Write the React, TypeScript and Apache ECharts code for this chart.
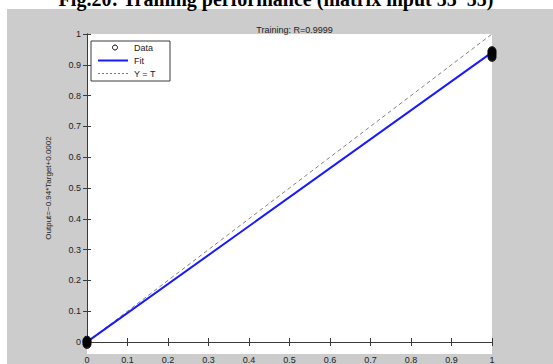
import React, { useEffect, useRef } from "react";
import * as echarts from "echarts";

// Regression of network output against target on the training set
const targets = [0, 0, 0, 0, 0, 1, 1, 1, 1, 1, 1];
const outputs = [0.006, 0.002, -0.003, -0.008, 0.0, 0.946, 0.942, 0.938, 0.934, 0.929, 0.924];

// Linear fit: Output = fitSlope * Target + fitIntercept
const fitSlope = 0.94;
const fitIntercept = 0.0002;
const fitX = [0, 1];

const identityX = [0, 1];

const chartTitle = "Training: R=0.9999";
const yName = "Output=~0.94*Target+0.0002";
const caption = "Fig.20: Training performance (matrix input 55*55)";
const legendNames = ["Data", "Fit", "Y = T"];

const W = 553;
const H = 364;
const FONT = "Liberation Sans, Arial, sans-serif";

export default function App() {
  const ref = useRef<HTMLDivElement>(null);

  useEffect(() => {
    if (!ref.current) return;
    const chart = echarts.init(ref.current, null, { renderer: "svg" });

    const fmt = (v: number) => String(+v.toFixed(1));
    const axisBase = {
      type: "value" as const,
      min: 0,
      max: 1,
      interval: 0.1,
      splitLine: { show: false },
      axisLine: { show: true, lineStyle: { color: "#3a3a3a", width: 1 } },
      axisTick: { show: true, inside: true, length: 4, lineStyle: { color: "#3a3a3a" } },
    };

    const legendX = 91;
    const legendY = 41;

    chart.setOption({
      animation: false,
      backgroundColor: "#ffffff",
      grid: { left: 87, top: 34, right: 61, bottom: 10, containLabel: false },
      xAxis: [
        {
          ...axisBase,
          position: "bottom",
          axisLabel: {
            show: true,
            fontSize: 9,
            color: "#222",
            fontFamily: FONT,
            margin: 13,
            formatter: fmt,
          },
        },
        { ...axisBase, position: "top", axisLabel: { show: false } },
      ],
      yAxis: [
        {
          ...axisBase,
          position: "left",
          name: yName,
          nameLocation: "middle",
          nameGap: 35,
          nameTextStyle: { fontSize: 8, color: "#222", fontFamily: FONT },
          axisLabel: {
            show: true,
            fontSize: 9,
            color: "#222",
            fontFamily: FONT,
            margin: 6,
            formatter: fmt,
          },
        },
        { ...axisBase, position: "right", axisLabel: { show: false } },
      ],
      title: {
        text: chartTitle,
        left: 289.5,
        top: 20,
        textAlign: "center",
        textStyle: { fontSize: 9, fontWeight: "normal", color: "#222", fontFamily: FONT },
      },
      graphic: [
        {
          type: "rect",
          z: -10,
          silent: true,
          shape: { x: 7, y: 9, width: W - 7, height: H - 9 },
          style: { fill: "#cccccc" },
        },
        {
          type: "rect",
          z: -9,
          silent: true,
          shape: { x: 87, y: 34, width: 405, height: 320 },
          style: { fill: "#ffffff" },
        },
        {
          type: "text",
          x: 276,
          y: 9,
          z: 5,
          style: {
            text: caption,
            fill: "#000",
            font: "bold 20px 'Liberation Serif', 'Times New Roman', serif",
            textAlign: "center",
            textVerticalAlign: "bottom",
          },
        },
        {
          type: "group",
          z: 100,
          children: [
            {
              type: "rect",
              shape: { x: legendX, y: legendY, width: 79, height: 40 },
              style: { fill: "#ffffff", stroke: "#3a3a3a", lineWidth: 1 },
            },
            {
              type: "circle",
              shape: { cx: 115, cy: 47.5, r: 2.5 },
              style: { fill: "none", stroke: "#000", lineWidth: 1 },
            },
            {
              type: "line",
              shape: { x1: 98, y1: 60.5, x2: 128, y2: 60.5 },
              style: { stroke: "#1a1aff", lineWidth: 2 },
            },
            {
              type: "line",
              shape: { x1: 98, y1: 73.5, x2: 128, y2: 73.5 },
              style: { stroke: "#777", lineWidth: 1, lineDash: [2, 2] },
            },
            ...legendNames.map((n, i) => ({
              type: "text",
              x: 134,
              y: 47.5 + i * 13,
              style: {
                text: n,
                fill: "#222",
                font: `9px ${FONT}`,
                textVerticalAlign: "middle",
              },
            })),
          ],
        },
      ],
      series: [
        {
          name: "Y = T",
          type: "line",
          data: identityX.map((t) => [t, t]),
          symbol: "none",
          lineStyle: { color: "#808080", width: 1, type: [4, 3] },
          z: 2,
        },
        {
          name: "Fit",
          type: "line",
          data: fitX.map((t) => [t, fitSlope * t + fitIntercept]),
          symbol: "none",
          lineStyle: { color: "#1a1aff", width: 2 },
          z: 3,
        },
        {
          name: "Data",
          type: "scatter",
          data: targets.map((t, i) => [t, outputs[i]]),
          symbol: "circle",
          symbolSize: 8,
          clip: false,
          itemStyle: { color: "#000", borderColor: "#000", borderWidth: 1 },
          z: 4,
        },
      ],
    });

    return () => chart.dispose();
  }, []);

  return (
    <div
      ref={ref}
      style={{ position: "absolute", left: 0, top: 0, width: W, height: H }}
    />
  );
}
